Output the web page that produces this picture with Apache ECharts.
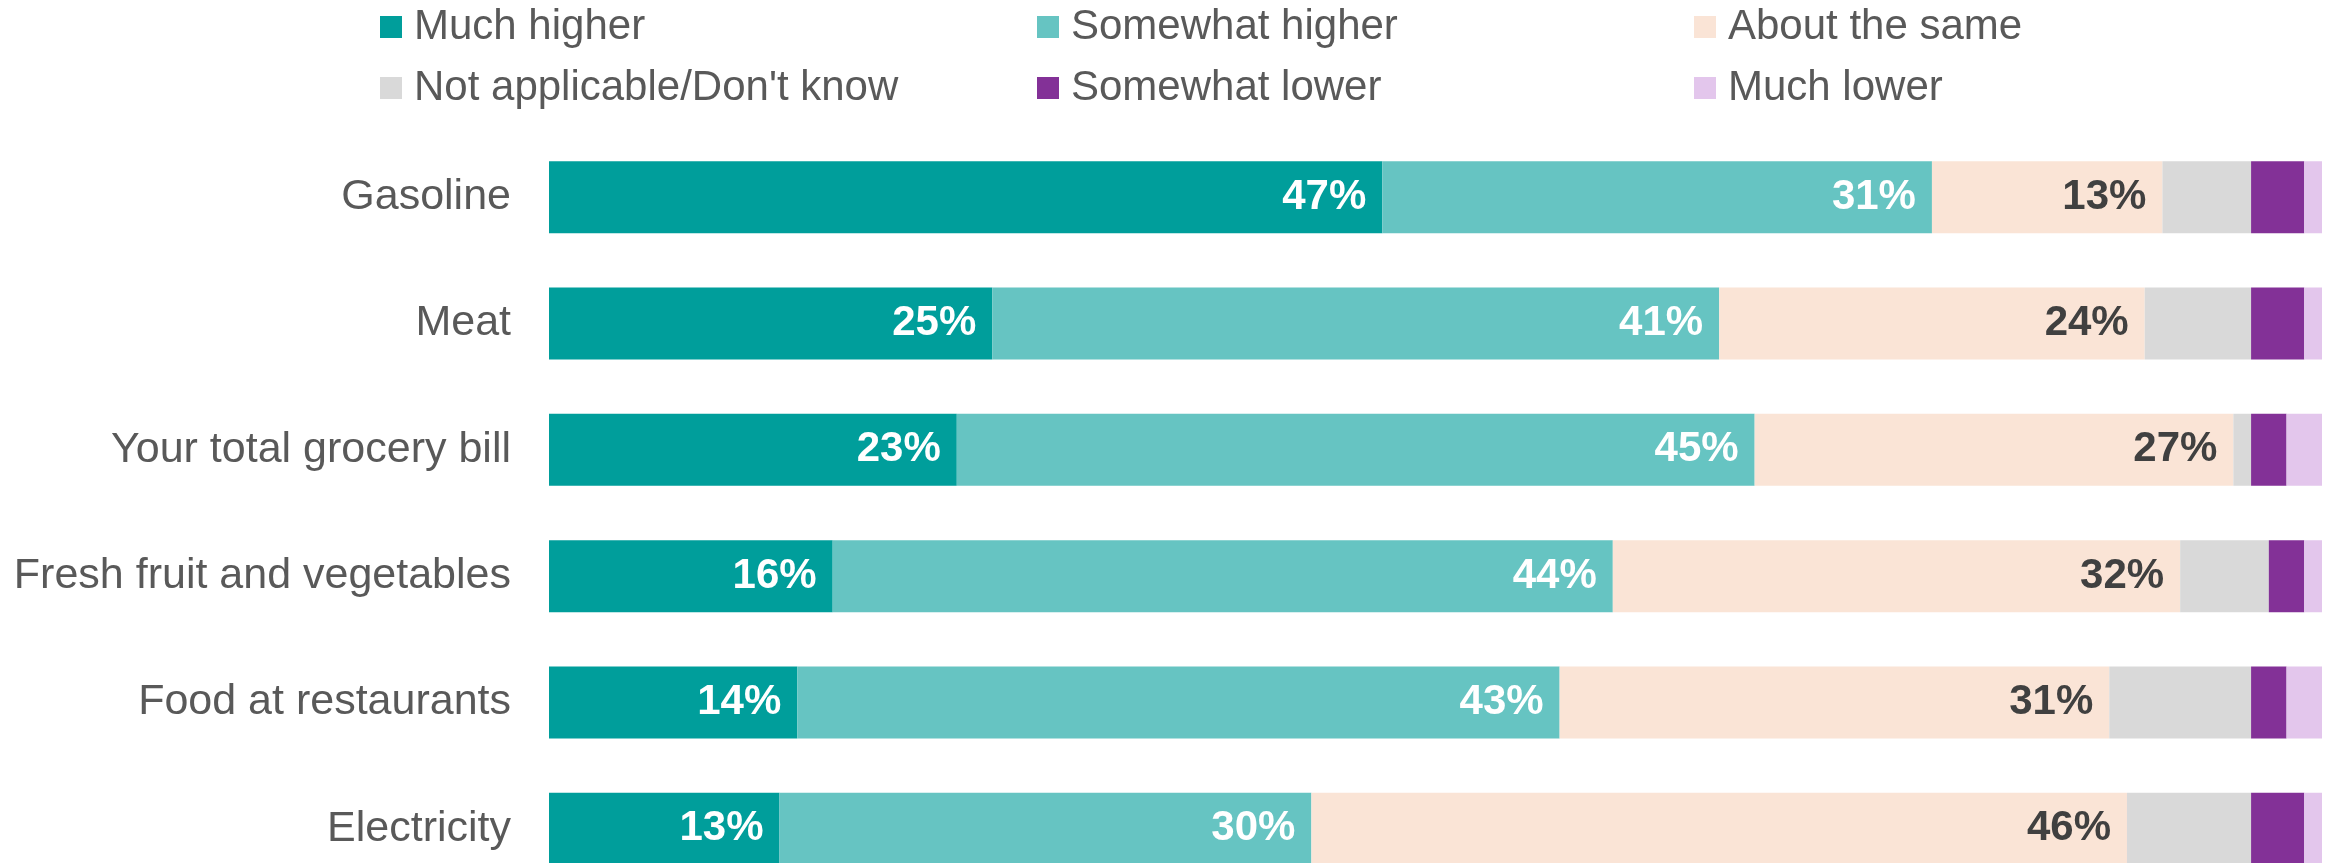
<!DOCTYPE html>
<html>
<head>
<meta charset="utf-8">
<title>Price changes by category</title>
<script src="https://cdn.jsdelivr.net/npm/echarts@6/dist/echarts.min.js"></script>
<style>
  html, body { margin: 0; padding: 0; background: #ffffff; overflow: hidden; }
  /* The last row runs off the bottom edge of the view */
  #chart { width: 2336px; height: 900px; }
</style>
</head>
<body>
<div id="chart"></div>
<script>
// Categories, top to bottom
const categories = [
  'Gasoline',
  'Meat',
  'Your total grocery bill',
  'Fresh fruit and vegetables',
  'Food at restaurants',
  'Electricity'
];

// Share of respondents (%) per answer
const muchHigher     = [47, 25, 23, 16, 14, 13];
const somewhatHigher = [31, 41, 45, 44, 43, 30];
const aboutSame      = [13, 24, 27, 32, 31, 46];
const notApplicable  = [5, 6, 1, 5, 8, 7];
const somewhatLower  = [3, 3, 2, 2, 2, 3];
const muchLower      = [1, 1, 2, 1, 2, 1];

const seriesNames = [
  'Much higher', 'Somewhat higher', 'About the same',
  'Not applicable/Don\'t know', 'Somewhat lower', 'Much lower'
];
const seriesData = [muchHigher, somewhatHigher, aboutSame, notApplicable, somewhatLower, muchLower];
const seriesColors = ['#009E9B', '#66C4C2', '#FAE4D6', '#D9D9D9', '#833197', '#E3C6EC'];
// Which segments carry a value label, and in which colour
const labelColors = ['#ffffff', '#ffffff', '#404040', null, null, null];

const FONT = '"Liberation Sans", Arial, Helvetica, sans-serif';

const series = seriesNames.map((name, i) => ({
  name: name,
  type: 'bar',
  stack: 'total',
  barWidth: 72,
  data: seriesData[i],
  itemStyle: { color: seriesColors[i] },
  label: labelColors[i] ? {
    show: true,
    position: 'insideRight',
    distance: 16,
    formatter: '{c}%',
    color: labelColors[i],
    fontFamily: FONT,
    fontWeight: 'bold',
    fontSize: 42
  } : { show: false },
  emphasis: { disabled: true },
  animation: false
}));

// Legend laid out as a 3 x 2 grid
const legendCols = [380, 1037, 1694];
const legendRows = [6, 67];
const legends = seriesNames.map((name, i) => ({
  data: [name],
  left: legendCols[i % 3],
  top: legendRows[Math.floor(i / 3)],
  padding: 0,
  itemWidth: 22,
  itemHeight: 22,
  icon: 'rect',
  selectedMode: false,
  textStyle: {
    fontFamily: FONT,
    fontSize: 42,
    color: '#595959',
    padding: [0, 0, 0, 7]
  }
}));

const chart = echarts.init(document.getElementById('chart'), null, { renderer: 'canvas' });
chart.setOption({
  backgroundColor: '#ffffff',
  animation: false,
  legend: legends,
  grid: { left: 549, width: 1773, top: 134, height: 758, containLabel: false },
  xAxis: {
    type: 'value',
    min: 0,
    max: 100,
    show: false
  },
  yAxis: {
    type: 'category',
    data: categories,
    inverse: true,
    axisLine: { show: false },
    axisTick: { show: false },
    splitLine: { show: false },
    axisLabel: {
      margin: 38,
      fontFamily: FONT,
      fontSize: 43,
      color: '#595959',
      padding: [5, 0, 0, 0]
    }
  },
  series: series
});
</script>
</body>
</html>
